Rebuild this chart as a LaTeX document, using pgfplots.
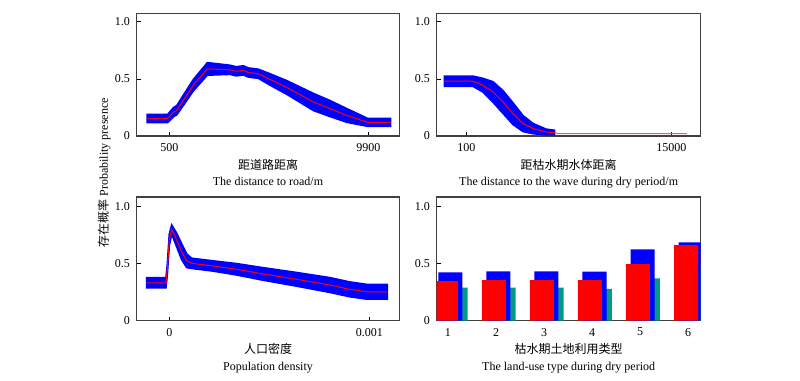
\documentclass[border=0pt]{standalone}
\usepackage{pgfplots}
\pgfplotsset{compat=1.18}
\usepackage{pgfplotstable}
\usepgfplotslibrary{fillbetween}
\usepackage{fontspec}
\setmainfont{Liberation Serif}
\newfontfamily\cjk{Noto Sans CJK SC}
\definecolor{bandblue}{RGB}{0,0,255}
\definecolor{meanred}{RGB}{255,0,0}
\definecolor{tailred}{RGB}{240,90,90}
\definecolor{tealbar}{RGB}{0,155,135}

\pgfplotstableread{
x y lo hi
-540 0.153 0.118 0.188
420 0.153 0.118 0.188
703 0.210 0.170 0.250
850 0.225 0.185 0.265
1165 0.313 0.268 0.358
1637 0.445 0.395 0.495
2298 0.588 0.533 0.643
3373 0.580 0.540 0.620
3656 0.567 0.527 0.607
4003 0.575 0.535 0.615
4239 0.556 0.516 0.596
4711 0.545 0.505 0.585
5263 0.495 0.445 0.545
6052 0.425 0.365 0.485
7310 0.298 0.223 0.373
8097 0.240 0.170 0.310
8885 0.180 0.120 0.240
9858 0.120 0.085 0.155
10950 0.120 0.085 0.155
}\roaddata

\pgfplotstableread{
x y lo hi
-1500 0.480 0.435 0.525
580 0.480 0.435 0.525
1307 0.445 0.385 0.505
2034 0.386 0.296 0.476
2760 0.298 0.198 0.398
3487 0.196 0.101 0.291
4214 0.109 0.039 0.179
4941 0.065 0.020 0.110
5910 0.035 0.010 0.060
6515 0.030 0.010 0.050
}\waterdata

\pgfplotstableread{
x y
6515 0.030
6800 0.020
16134 0.020
}\watertail

% population density, x given in units of 0.001
\pgfplotstableread{
x y lo hi
-0.113 0.333 0.288 0.378
-0.0165 0.333 0.288 0.378
-0.010 0.445 0.400 0.490
0 0.708 0.658 0.758
0.012 0.800 0.760 0.840
0.037 0.708 0.648 0.768
0.062 0.605 0.535 0.675
0.087 0.526 0.466 0.586
0.112 0.503 0.458 0.548
0.220 0.480 0.435 0.525
0.337 0.451 0.401 0.501
0.470 0.410 0.355 0.465
0.637 0.363 0.303 0.423
0.803 0.313 0.248 0.378
0.903 0.275 0.210 0.340
0.987 0.254 0.189 0.319
1.090 0.254 0.189 0.319
}\popdata

\pgfplotsset{
  panel/.style={
    scale only axis, anchor=south west,
    tick pos=left, tick align=inside, major tick length=3pt,
    scaled x ticks=false, scaled y ticks=false,
    axis line style={draw=black!75, line width=1pt},
    every tick/.style={black, line width=0.6pt},
    ytick={0,0.5,1}, yticklabels={0,0.5,1.0},
    /pgf/number format/assume math mode=true,
    tick label style={font=\fontsize{9}{11}\selectfont},
    xticklabel style={yshift=-2pt},
    yticklabel style={xshift=-1.5pt},
    xlabel style={at={(axis description cs:0.5,0)}, anchor=north, yshift=-17pt,
      inner sep=0pt, align=center, font=\fontsize{9}{12.2}\selectfont},
  },
}

\begin{document}
\begin{tikzpicture}

% Top-left: distance to road
\begin{axis}[panel, at={(102.5pt,183.75pt)}, width=197pt, height=92pt,
  xmin=-1040, xmax=11364, ymin=0, ymax=1.075,
  xtick={500,9900}, xticklabels={500,9900},
  xlabel={{\cjk 距道路距离}\\The distance to road/m}]
  \addplot[name path=hiA, draw=none] table[x=x,y=hi]{\roaddata};
  \addplot[name path=loA, draw=none] table[x=x,y=lo]{\roaddata};
  \addplot[fill=bandblue, draw=bandblue, line width=1.2pt] fill between[of=hiA and loA];
  \addplot[meanred, line width=0.75pt] table[x=x,y=y]{\roaddata};
\end{axis}

% Top-right: distance to water
\begin{axis}[panel, at={(327.5pt,183.75pt)}, width=198pt, height=92pt,
  xmin=-2058, xmax=17130, ymin=0, ymax=1.075,
  xtick={100,15000}, xticklabels={100,15000},
  xlabel={{\cjk 距枯水期水体距离}\\The distance to the wave during dry period/m}]
  \addplot[name path=hiB, draw=none] table[x=x,y=hi]{\waterdata};
  \addplot[name path=loB, draw=none] table[x=x,y=lo]{\waterdata};
  \addplot[fill=bandblue, draw=bandblue, line width=1.2pt] fill between[of=hiB and loB];
  \addplot[meanred, line width=0.75pt] table[x=x,y=y]{\waterdata};
  \addplot[tailred, line width=0.8pt] table[x=x,y=y]{\watertail};
\end{axis}

% Bottom-left: population density
\begin{axis}[panel, at={(102.5pt,45.2pt)}, width=197pt, height=92.8pt,
  xmin=-0.163, xmax=1.15, ymin=0, ymax=1.085,
  xtick={0,1}, xticklabels={0,0.001},
  xlabel={{\cjk 人口密度}\\Population density}]
  \addplot[name path=hiC, draw=none] table[x=x,y=hi]{\popdata};
  \addplot[name path=loC, draw=none] table[x=x,y=lo]{\popdata};
  \addplot[fill=bandblue, draw=bandblue, line width=1.2pt] fill between[of=hiC and loC];
  \addplot[meanred, line width=0.75pt] table[x=x,y=y]{\popdata};
\end{axis}

% Bottom-right: land-use type
\begin{axis}[panel, at={(327.5pt,45.2pt)}, width=198pt, height=92.8pt,
  xmin=0.765, xmax=6.26, ymin=0, ymax=1.085,
  xtick={1,2,3,4,5,6}, xticklabels={1,2,3,4,5,6},
  xlabel={{\cjk 枯水期土地利用类型}\\The land-use type during dry period}]
  \addplot[ybar, bar width=0.42, bar shift=0.2, fill=tealbar, draw=none]
    coordinates {(1,0.29) (2,0.29) (3,0.29) (4,0.28) (5,0.372) (6,0.5)};
  \addplot[ybar, bar width=0.5, bar shift=0.05, fill=bandblue, draw=none]
    coordinates {(1,0.425) (2,0.433) (3,0.433) (4,0.43) (5,0.626) (6,0.688)};
  \addplot[ybar, bar width=0.5, bar shift=-0.045, fill=meanred, draw=none]
    coordinates {(1,0.348) (2,0.357) (3,0.357) (4,0.357) (5,0.497) (6,0.664)};
\end{axis}

\node[rotate=90, font=\fontsize{9}{11}\selectfont] at (78pt,156pt)
  {{\cjk 存在概率} Probability presence};
\path (0,0) (600pt,285.75pt);
\end{tikzpicture}
\end{document}
